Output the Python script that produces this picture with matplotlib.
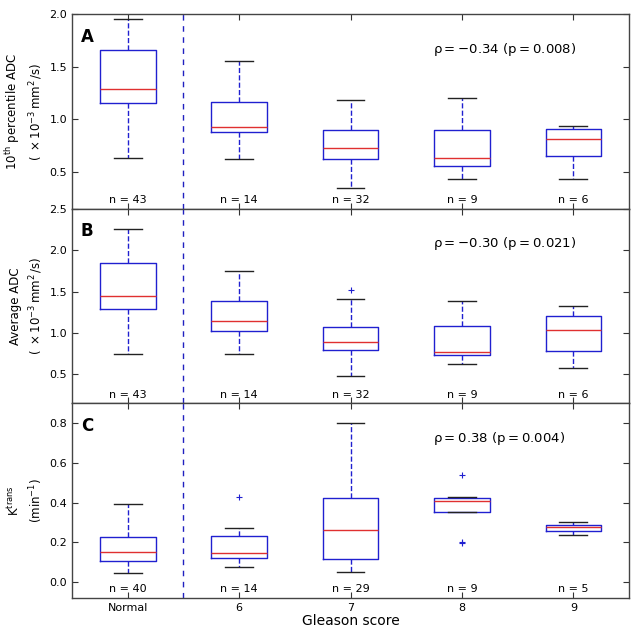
import matplotlib
matplotlib.use("Agg")

import matplotlib.pyplot as plt
import matplotlib.transforms as mtransforms

plt.rcParams["mathtext.default"] = "regular"

# ── Data (five-number summaries) ─────────────────────────────────────────────
groups = ["Normal", "6", "7", "8", "9"]

# A: 10th percentile ADC
adc10_whislo = [0.63, 0.62, 0.35, 0.43, 0.43]
adc10_q1     = [1.15, 0.88, 0.62, 0.56, 0.65]
adc10_med    = [1.29, 0.93, 0.73, 0.63, 0.81]
adc10_q3     = [1.66, 1.16, 0.90, 0.90, 0.91]
adc10_whishi = [1.95, 1.55, 1.18, 1.20, 0.94]
adc10_fliers = [[], [], [], [], []]
adc10_n      = [43, 14, 32, 9, 6]

# B: average ADC
adcavg_whislo = [0.75, 0.74, 0.48, 0.63, 0.58]
adcavg_q1     = [1.29, 1.02, 0.79, 0.73, 0.78]
adcavg_med    = [1.44, 1.15, 0.89, 0.77, 1.03]
adcavg_q3     = [1.85, 1.38, 1.07, 1.08, 1.21]
adcavg_whishi = [2.25, 1.75, 1.41, 1.38, 1.33]
adcavg_fliers = [[], [], [1.52], [], []]
adcavg_n      = [43, 14, 32, 9, 6]

# C: Ktrans
ktrans_whislo = [0.048, 0.075, 0.050, 0.355, 0.238]
ktrans_q1     = [0.106, 0.121, 0.117, 0.355, 0.257]
ktrans_med    = [0.151, 0.149, 0.262, 0.409, 0.280]
ktrans_q3     = [0.229, 0.231, 0.423, 0.423, 0.290]
ktrans_whishi = [0.395, 0.273, 0.800, 0.431, 0.303]
ktrans_fliers = [[], [0.428], [], [0.541, 0.199, 0.201], []]
ktrans_n      = [40, 14, 29, 9, 5]

adc_unit = r"$(\ \times10^{-3}\,mm^2\,/s)$"
panels = [
    ("A", r"$10^{th}$ percentile ADC" + "\n" + adc_unit,
     adc10_whislo, adc10_q1, adc10_med, adc10_q3, adc10_whishi, adc10_fliers, adc10_n,
     r"$\rho=-0.34\ (p=0.008)$", (0.15, 2.0), [0.5, 1.0, 1.5, 2.0]),
    ("B", "Average ADC" + "\n" + adc_unit,
     adcavg_whislo, adcavg_q1, adcavg_med, adcavg_q3, adcavg_whishi, adcavg_fliers, adcavg_n,
     r"$\rho=-0.30\ (p=0.021)$", (0.15, 2.5), [0.5, 1.0, 1.5, 2.0, 2.5]),
    ("C", r"$K^{trans}$" + "\n" + r"$(min^{-1})$",
     ktrans_whislo, ktrans_q1, ktrans_med, ktrans_q3, ktrans_whishi, ktrans_fliers, ktrans_n,
     r"$\rho=0.38\ (p=0.004)$", (-0.08, 0.9), [0.0, 0.2, 0.4, 0.6, 0.8]),
]

positions = list(range(1, len(groups) + 1))

fig = plt.figure(figsize=(6.4, 6.36), dpi=100)
left, right = 0.1125, 0.983
top, bottom = 0.978, 0.0597
ph = (top - bottom) / 3

for i, (letter, ylabel, wlo, q1, med, q3, whi, fl, n, rho_txt, ylim, yticks) in enumerate(panels):
    ax = fig.add_axes([left, top - (i + 1) * ph, right - left, ph])

    stats = [
        dict(med=med[k], q1=q1[k], q3=q3[k], whislo=wlo[k], whishi=whi[k], fliers=fl[k])
        for k in range(len(groups))
    ]
    ax.bxp(
        stats, positions=positions, widths=0.5,
        boxprops=dict(color="#2020d0", linewidth=1.0),
        medianprops=dict(color="#e03030", linewidth=1.0),
        whiskerprops=dict(color="#2020d0", linestyle="--", linewidth=1.0),
        capprops=dict(color="#222222", linewidth=1.0),
        flierprops=dict(marker="+", markeredgecolor="#2020d0", markersize=5,
                        linestyle="none", markeredgewidth=0.8),
    )

    ax.axvline(1.5, color="#2020c0", linestyle="--", linewidth=1.0, dashes=(4, 4))

    trans = mtransforms.blended_transform_factory(ax.transData, ax.transAxes)
    for p, nv in zip(positions, n):
        ax.text(p, 0.045, f"n = {nv}", transform=trans, ha="center", va="center",
                fontsize=8)

    ax.text(0.016, 0.93, letter, transform=ax.transAxes, ha="left", va="top",
            fontsize=12, fontweight="bold")
    ax.text(3.74, 0.82, rho_txt, transform=trans, ha="left", va="center", fontsize=9.5)

    ax.set_xlim(0.5, 5.5)
    ax.set_ylim(*ylim)
    ax.set_yticks(yticks)
    ax.set_yticklabels([f"{t:.1f}" for t in yticks])
    ax.set_xticks(positions)
    if i == 2:
        ax.set_xticklabels(groups)
        ax.set_xlabel("Gleason score", fontsize=10, labelpad=1)
    else:
        ax.set_xticklabels([])

    ax.set_ylabel(ylabel, fontsize=8.5, linespacing=1.4)
    ax.yaxis.set_label_coords(-0.048, 0.5)
    ax.tick_params(direction="in", top=True, right=True, labelsize=8,
                   length=4, width=0.8, color="#333333")
    for s in ax.spines.values():
        s.set_color("#444444")
        s.set_linewidth(1.0)

fig.savefig("out.png", dpi=100, facecolor="white")
